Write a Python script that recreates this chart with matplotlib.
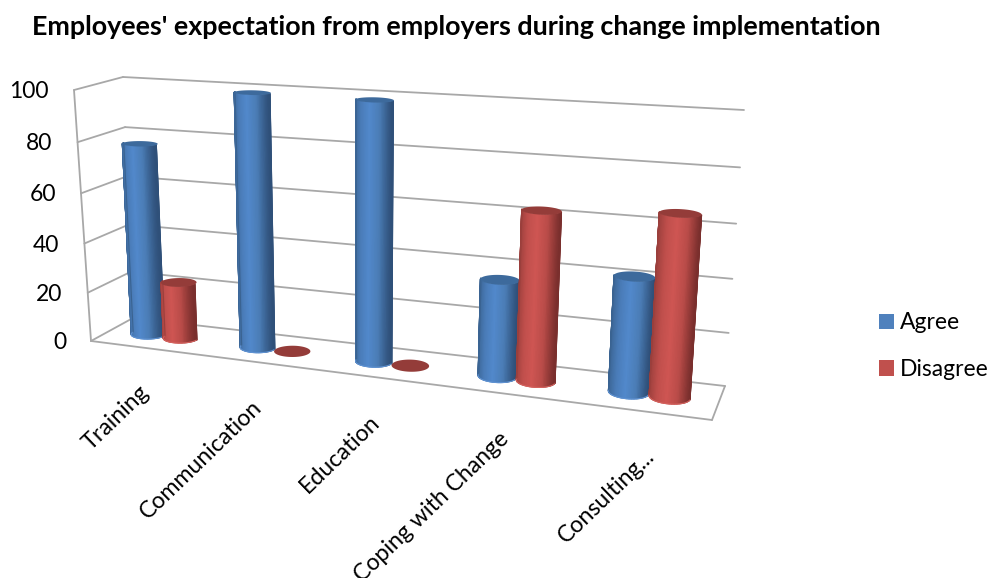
import numpy as np
import matplotlib
matplotlib.use('Agg')
import matplotlib.pyplot as plt
from matplotlib.colors import LinearSegmentedColormap
from matplotlib.patches import Patch, Polygon

title = "Employees' expectation from employers during change implementation"
categories = ['Training', 'Communication', 'Education', 'Coping with Change', 'Consulting...']
agree = [77.5, 100, 100, 37, 43]
disagree = [23, 0, 0, 64, 67]
y_ticks = [0, 20, 40, 60, 80, 100]

plt.rcParams['font.family'] = ['Lato', 'DejaVu Sans']

# box corners in figure pixels, indexed [x side][depth][height]
box = np.array([[[[91, 341], [74, 90]], [[133, 318], [123, 77]]],
                [[[712, 420], [731, 133]], [[725, 386], [744, 110]]]], dtype=float)
K_X = 1.165
K_Y = 1.05
label_nudge = [-7, -7, -9, -7, 3]


def lift(t, k):
    return t / (t + k * (1 - t))


def project(x, depth, value):
    # trilinear lookup in the box with a little foreshortening on x and height
    x = np.asarray(x, dtype=float)
    depth = np.asarray(depth, dtype=float)
    a = lift(x, K_X)[..., None]
    b = depth[..., None]
    c = lift(np.asarray(value, dtype=float) / 100, K_Y)[..., None]
    front = (box[0, 0, 0] * (1 - c) + box[0, 0, 1] * c) * (1 - a) + (box[1, 0, 0] * (1 - c) + box[1, 0, 1] * c) * a
    back = (box[0, 1, 0] * (1 - c) + box[0, 1, 1] * c) * (1 - a) + (box[1, 1, 0] * (1 - c) + box[1, 1, 1] * c) * a
    return front * (1 - b) + back * b


def line3(ax, start, end, **kw):
    pts = project(np.array([start[0], end[0]]), np.array([start[1], end[1]]), np.array([start[2], end[2]]))
    ax.plot(pts[:, 0], pts[:, 1], color='#a8a8a8', lw=1.3, solid_capstyle='round', **kw)


def cylinder(ax, x, value, cmap, top_color, rim_color, order):
    r_x = 0.0295
    r_d = 0.20
    # the top ring flattens as the bar gets taller
    r_top = r_d * (1 - 0.3 * value / 100)
    mid = 0.5
    around = np.linspace(0, 2 * np.pi, 80)
    cap = project(x + r_x * np.cos(around), mid + r_top * np.sin(around), np.full_like(around, value))
    ax.add_patch(Polygon(cap, closed=True, fc=top_color, ec='none', zorder=order + 0.5))
    if value <= 0:
        return
    theta = np.linspace(np.pi, 2 * np.pi, 41)
    xs = x + r_x * np.cos(theta)
    low = project(xs, mid + r_d * np.sin(theta), np.zeros_like(xs))
    high = project(xs, mid + r_top * np.sin(theta), np.full_like(xs, value))
    grid_x = np.vstack([low[:, 0], high[:, 0]])
    grid_y = np.vstack([low[:, 1], high[:, 1]])
    shade = (np.cos(theta) + 1) / 2
    # smooth shading round the barrel, mesh edges are hidden by thin outlines
    ax.pcolormesh(grid_x, grid_y, np.vstack([shade, shade]), shading='gouraud', cmap=cmap,
                  vmin=0, vmax=1, zorder=order)
    ax.plot(low[:, 0], low[:, 1], color=rim_color, lw=0.8, zorder=order + 0.2)
    ax.plot([low[0, 0], high[0, 0]], [low[0, 1], high[0, 1]], color=cmap(0.0), lw=0.8, zorder=order + 0.2)
    ax.plot([low[-1, 0], high[-1, 0]], [low[-1, 1], high[-1, 1]], color=cmap(1.0), lw=0.8, zorder=order + 0.2)


blues = LinearSegmentedColormap.from_list('agree', ['#3a6391', '#4a7cb8', '#5289cc', '#4b7db6', '#2f5079'])
reds = LinearSegmentedColormap.from_list('disagree', ['#9a3f3c', '#c04f4c', '#cf5653', '#ba4c49', '#7a2f2d'])

fig = plt.figure(figsize=(9.92, 5.78), dpi=100)
ax = fig.add_axes([0, 0, 1, 1])
ax.set_xlim(0, 992)
ax.set_ylim(578, 0)
ax.axis('off')

# walls and floor
for v in y_ticks:
    line3(ax, (0, 0, v), (0, 1, v))
    line3(ax, (0, 1, v), (1, 1, v))
line3(ax, (0, 0, 0), (0, 0, 100))
line3(ax, (0, 0, 0), (1, 0, 0))
line3(ax, (1, 0, 0), (1, 1, 0))

for v in y_ticks:
    pos = project(np.array(0.0), np.array(0.0), np.array(float(v)))
    ax.text(pos[0] - 25, pos[1] + 1.5, str(v), ha='right', va='center', fontsize=16.5, color='black')

order = 3
for i, name in enumerate(categories):
    center = 0.1 + 0.2 * i
    cylinder(ax, center - 0.03, agree[i], blues, '#3d6a9c', '#5f92d2', order)
    cylinder(ax, center + 0.03, disagree[i], reds, '#943c39', '#d4625e', order + 1)
    order += 2
    pos = project(np.array(center), np.array(0.0), np.array(0.0))
    ax.text(pos[0] + label_nudge[i], pos[1] + 34, name, rotation=44, rotation_mode='anchor', ha='right', va='top',
            fontsize=16.7, color='black')

ax.text(32, 27, title, ha='left', va='center', fontsize=19.4, fontweight='bold', color='black')

handles = [Patch(fc='#4f81bd', ec='none', label='Agree'), Patch(fc='#c0504d', ec='none', label='Disagree')]
ax.legend(handles=handles, loc='upper left', bbox_to_anchor=(877 / 992, 1 - 310 / 578), frameon=False,
          fontsize=16.5, handlelength=0.66, handleheight=0.66, handletextpad=0.25, labelspacing=1.12,
          borderpad=0.1, borderaxespad=0)

fig.savefig('out.png', dpi=100)
